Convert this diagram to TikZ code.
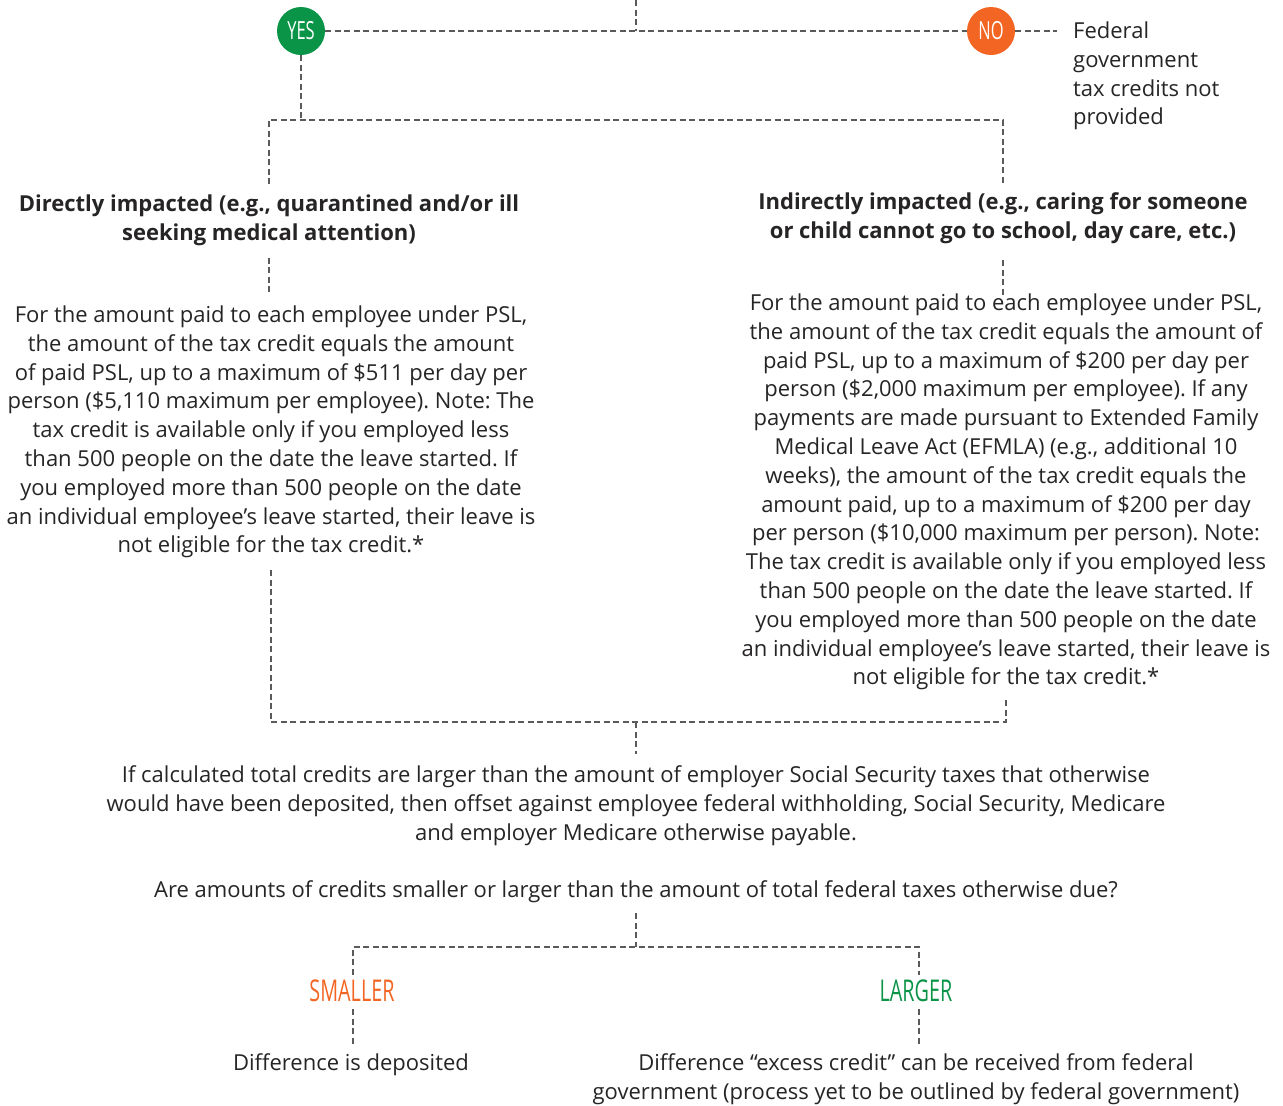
\documentclass[tikz,border=0pt]{standalone}
\usepackage{fontspec}
\setmainfont{Open Sans}
\newfontfamily\condfont[FakeStretch=0.66]{Open Sans}
\usetikzlibrary{positioning, calc}
\definecolor{yesgreen}{RGB}{10,148,72}
\definecolor{noorange}{RGB}{242,101,34}
\definecolor{linegray}{RGB}{90,90,90}
\definecolor{textgray}{RGB}{38,36,37}
\frenchspacing

\begin{document}
\begin{tikzpicture}[
    x=1pt, y=-1pt,
    link/.style={draw=linegray, line width=1.8pt, dash pattern=on 6pt off 3.5pt},
    body/.style={align=center, inner sep=0pt, text=textgray, font=\fontsize{22}{28.8}\selectfont},
    title/.style={body, font=\fontsize{22}{28.8}\selectfont\bfseries},
    answer/.style={circle, minimum size=48pt, inner sep=0pt, text=white, font=\condfont\fontsize{25}{25}\selectfont},
    branch/.style={inner sep=0pt, font=\condfont\fontsize{30}{30}\selectfont}
    ]
    \useasboundingbox (0,0) rectangle (1283,1106);

    % --- Respuesta inicial ---
    \coordinate (top) at (636,0);
    \node (yes) [answer, fill=yesgreen] at (301,31) {YES};
    \node (no) [answer, fill=noorange] at (991,31) {NO};
    \node (notprov) [body, align=left, anchor=west] at (1073,76) {Federal\\government\\tax credits not\\provided};

    % --- Tipos de impacto ---
    \node (dirtitle) [title] at (269,220) {Directly impacted (e.g., quarantined and/or ill\\seeking medical attention)};
    \node (indtitle) [title] at (1003,218.5) {Indirectly impacted (e.g., caring for someone\\or child cannot go to school, day care, etc.)};

    \node (dirbody) [body] at (271,432) {For the amount paid to each employee under PSL,\\
    the amount of the tax credit equals the amount\\
    of paid PSL, up to a maximum of \$511 per day per\\
    person (\$5,110 maximum per employee). Note: The\\
    tax credit is available only if you employed less\\
    than 500 people on the date the leave started. If\\
    you employed more than 500 people on the date\\
    an individual employee’s leave started, their leave is\\
    not eligible for the tax credit.*};

    \node (indbody) [body] at (1006,492) {For the amount paid to each employee under PSL,\\
    the amount of the tax credit equals the amount of\\
    paid PSL, up to a maximum of \$200 per day per\\
    person (\$2,000 maximum per employee). If any\\
    payments are made pursuant to Extended Family\\
    Medical Leave Act (EFMLA) (e.g., additional 10\\
    weeks), the amount of the tax credit equals the\\
    amount paid, up to a maximum of \$200 per day\\
    per person (\$10,000 maximum per person). Note:\\
    The tax credit is available only if you employed less\\
    than 500 people on the date the leave started. If\\
    you employed more than 500 people on the date\\
    an individual employee’s leave started, their leave is\\
    not eligible for the tax credit.*};

    % --- Compensación ---
    \node (offset) [body] at (636,806) {If calculated total credits are larger than the amount of employer Social Security taxes that otherwise\\
    would have been deposited, then offset against employee federal withholding, Social Security, Medicare\\
    and employer Medicare otherwise payable.};

    \node (question) [body] at (636,892) {Are amounts of credits smaller or larger than the amount of total federal taxes otherwise due?};

    \node (smaller) [branch, text=noorange] at (352,991) {SMALLER};
    \node (larger) [branch, text=yesgreen] at (916,991) {LARGER};

    \node (deposited) [body] at (351,1065) {Difference is deposited};
    \node (excess) [body] at (916,1079.5) {Difference “excess credit” can be received from federal\\government (process yet to be outlined by federal government)};

    % --- Conexiones ---
    \coordinate (forkA) at (301,120);
    \coordinate (forkB) at (636,722);
    \coordinate (forkC) at (636,947);
    \coordinate (leftC) at (353,947);
    \coordinate (rightC) at (919,947);

    \draw[link] (top) -- (top |- yes.center);
    \draw[link] (yes) -- (no);
    \draw[link, shorten >=16pt] (no) -- (no -| notprov.west);

    \draw[link] (yes) -- (forkA);
    \draw[link] ($(dirtitle.north)+(0,-10)$) |- (forkA) -| ($(indtitle.north)+(0,-10)$);

    \draw[link] ($(dirtitle.south)+(0,12)$) -- ($(dirtitle.south |- dirbody.north)+(0,-14)$);
    \draw[link] ($(indtitle.south)+(0,16)$) -- ($(indtitle.south |- indbody.north)+(0,2)$);

    \draw[link] ($(dirbody.south)+(0,12)$) |- (forkB) -| ($(indbody.south)+(0,10)$);
    \draw[link] (forkB) -- ($(offset.north)+(0,-12)$);

    \draw[link] ($(question.south)+(0,10)$) -- (forkC);
    \draw[link] ($(leftC |- smaller.north)+(0,-5)$) |- (forkC) -| ($(rightC |- larger.north)+(0,-5)$);
    \draw[link] ($(leftC |- smaller.south)+(0,7)$) -- ($(leftC |- deposited.north)+(0,-10)$);
    \draw[link] ($(rightC |- larger.south)+(0,7)$) -- ($(rightC |- excess.north)+(0,-10)$);

\end{tikzpicture}
\end{document}
